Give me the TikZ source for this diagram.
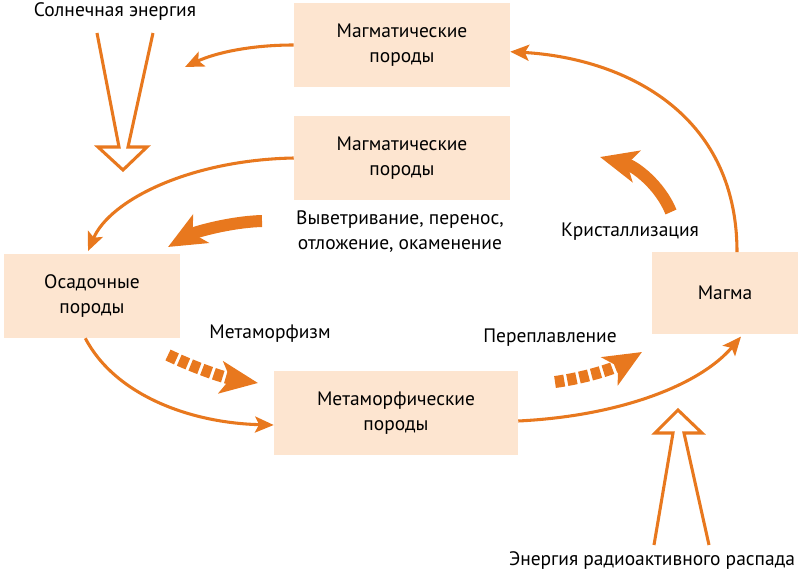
\documentclass[tikz,border=0pt]{standalone}
\usepackage{fontspec}
\setmainfont{PT Sans}
\usetikzlibrary{arrows.meta,positioning}
\usepackage{xcolor}
\definecolor{rockFill}{HTML}{FDE5D0}
\definecolor{cycleOrange}{HTML}{E8781E}
\newcommand{\BoxW}{162pt}
\newcommand{\BoxH}{63pt}
\newcommand{\LblFont}{\fontsize{14.6}{18.8}\selectfont}

\begin{document}
\begin{tikzpicture}[
  x=0.75pt, y=-0.75pt,
  rock/.style    = {fill=rockFill, align=center, inner sep=0pt,
                    minimum width=\BoxW, minimum height=\BoxH, font=\LblFont},
  lbl/.style     = {align=center, inner sep=0pt, font=\LblFont},
  cyclearr/.style = {draw=cycleOrange, line width=2.3pt,
                    -{Stealth[length=14pt,width=12pt,inset=3pt]}},
  bigarr/.style  = {draw=cycleOrange, line width=9pt,
                    -{Stealth[length=28pt,width=24pt,inset=7pt]}},
  dasharr/.style = {bigarr, dash pattern=on 7pt off 2.3pt},
  hollow/.style  = {draw=cycleOrange, line width=2.3pt, line join=miter},
]
\useasboundingbox (0,0) rectangle (800,577);

% ----------------------------------------------------------------
% Rock boxes
% ----------------------------------------------------------------
\node[rock] (magtop) at (402,45)  {Магматические\\породы};
\node[rock] (magmid) at (402,158) {Магматические\\породы};
\node[rock, minimum width=132pt] (sed) at (92,296) {Осадочные\\породы};
\node[rock, minimum width=183pt] (meta) at (396,413) {Метаморфические\\породы};
\node[rock, minimum width=109pt, minimum height=61pt] (magma) at (725,293) {Магма};

% ----------------------------------------------------------------
% Labels
% ----------------------------------------------------------------
\node[lbl] (solar)   at (115,12)  {Солнечная энергия};
\node[lbl] (weather) at (400,232) {Выветривание, перенос,\\отложение, окаменение};
\node[lbl] (cryst)   at (630,232) {Кристаллизация};
\node[lbl] (metam)   at (270,334) {Метаморфизм};
\node[lbl] (remelt)  at (550,338) {Переплавление};
\node[lbl] (radio)   at (652,561) {Энергия радиоактивного распада};

% ----------------------------------------------------------------
% Cycle connectors
% ----------------------------------------------------------------
\coordinate (toSun) at (185,67);

\draw[cyclearr] (magtop.west) .. controls (250,45) and (215,53) .. (toSun);
\draw[cyclearr] (magmid.west) .. controls (190,160) and (110,200) .. ([xshift=-3pt,yshift=2pt]sed.north);
\draw[cyclearr] ([xshift=-5pt]sed.south) .. controls (115,395) and (190,423) .. ([yshift=-9pt]meta.west);
\draw[cyclearr] ([yshift=-6pt]meta.east) .. controls (620,416) and (700,385) .. ([xshift=12pt,yshift=-2pt]magma.south);
\draw[cyclearr] ([xshift=9pt]magma.north) .. controls (737,110) and (620,58) .. ([yshift=-5pt]magtop.east);

% ----------------------------------------------------------------
% Process arrows
% ----------------------------------------------------------------
\draw[bigarr]  (262,221) .. controls (230,222) and (195,232) .. (168,247);
\draw[bigarr]  (671,212) .. controls (660,185) and (635,166) .. (600,157);
\draw[dasharr] (168,355) .. controls (195,368) and (225,378) .. (258,383);
\draw[dasharr] (555,382) .. controls (585,378) and (615,368) .. (642,352);

% ----------------------------------------------------------------
% Energy inputs
% ----------------------------------------------------------------
\draw[hollow] (97,33) -- (119,147) -- (98,147) -- (123,170)
              -- (147,147) -- (128,147) -- (153,33);
\draw[hollow] (654,545) -- (673,433) -- (655,433) -- (678,410)
              -- (702,433) -- (684,433) -- (709,545);

\end{tikzpicture}
\end{document}
